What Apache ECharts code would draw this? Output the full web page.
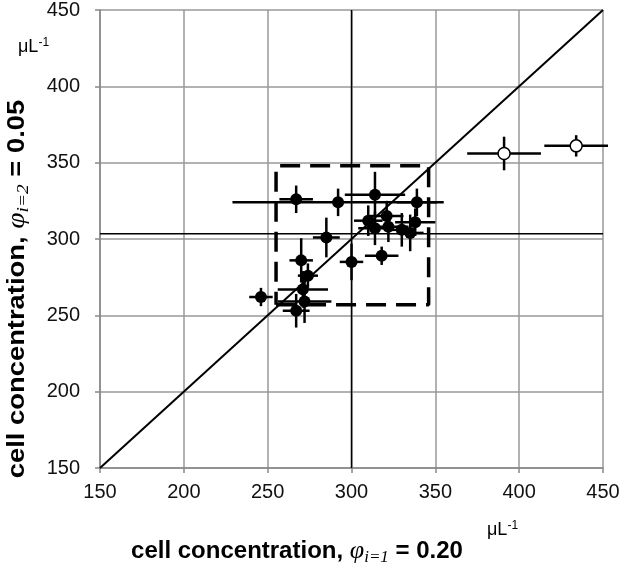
<!DOCTYPE html>
<html><head><meta charset="utf-8">
<script src="https://cdn.jsdelivr.net/npm/echarts@6/dist/echarts.min.js"></script>
<style>html,body{margin:0;padding:0;background:#fff}#c{width:634px;height:572px}</style>
</head><body><div id="c"></div>
<script>
// Data points (filled): x = phi 0.20, y = phi 0.05
const xs   = [246, 267, 271, 270, 274, 272, 267, 292, 285, 300, 314, 318, 310, 321, 322, 314, 330, 335, 339, 338];
const ys   = [262, 253, 267, 286, 276, 259, 326, 324, 301, 285, 329, 289, 312, 315, 308, 307, 306, 304, 324, 311];
const xErr = [7, 8, 15, 7, 6, 16, 10, 63, 8, 7, 18, 10, 8.5, 10, 12, 10, 8, 8, 12, 12];
const yErr = [6, 11, 12, 14.5, 8, 14, 9, 9, 13, 12, 15, 6, 10, 10, 10, 11, 11, 12, 9, 9];
// Outliers (open circles)
const oxs   = [391, 434];
const oys   = [356, 361];
const oxErr = [22, 19];
const oyErr = [11, 7];
// Reference lines
const meanX = [300];
const meanY = [303.5];
const boxX = [255, 346];
const boxY = [257, 348];
const axisMin = [150];
const axisMax = [450];
const tickStep = [50];
const xName = 'cell concentration, ';
const xPhi = 'i=1';
const xVal = ' = 0.20';
const yName = 'cell concentration, ';
const yPhi = 'i=2';
const yVal = ' = 0.05';
const unitText = 'μL';

const chart = echarts.init(document.getElementById('c'));
const pts = xs.map((x, i) => [x, ys[i], xErr[i], yErr[i]]);
const opts = oxs.map((x, i) => [x, oys[i], oxErr[i], oyErr[i]]);

function errRender(params, api) {
  const x = api.value(0), y = api.value(1), xe = api.value(2), ye = api.value(3);
  const a = api.coord([x - xe, y]), b = api.coord([x + xe, y]);
  const c = api.coord([x, y - ye]), d = api.coord([x, y + ye]);
  const st = {stroke: '#000', lineWidth: 2.5};
  return {type: 'group', children: [
    {type: 'line', shape: {x1: a[0], y1: a[1], x2: b[0], y2: b[1]}, style: st},
    {type: 'line', shape: {x1: c[0], y1: c[1], x2: d[0], y2: d[1]}, style: st}
  ]};
}

const nameRich = {
  b: {fontFamily: 'Liberation Sans', fontWeight: 'bold', fontSize: 24, color: '#000'},
  phi: {fontFamily: 'Liberation Serif', fontStyle: 'italic', fontSize: 26, color: '#000'},
  sub: {fontFamily: 'Liberation Serif', fontStyle: 'italic', fontSize: 17, color: '#000', padding: [13, 0, 0, 0]}
};
const unitRich = {
  u: {fontFamily: 'Liberation Sans', fontSize: 18, color: '#000'},
  s: {fontFamily: 'Liberation Sans', fontSize: 12, color: '#000', padding: [0, 0, 8, 0]}
};
const axisCommon = {
  type: 'value', min: axisMin[0], max: axisMax[0], interval: tickStep[0],
  axisLine: {show: true, lineStyle: {color: '#888', width: 1.5}},
  axisTick: {show: true, length: 5, lineStyle: {color: '#888', width: 1.5}},
  splitLine: {show: true, lineStyle: {color: '#999', width: 1.5}},
  axisLabel: {fontFamily: 'Liberation Sans', fontSize: 20, color: '#111'}
};

chart.setOption({
  animation: false,
  grid: {left: 100, right: 31, top: 10, bottom: 104},
  xAxis: Object.assign({}, axisCommon, {
    axisLabel: Object.assign({}, axisCommon.axisLabel, {margin: 14})
  }),
  yAxis: Object.assign({}, axisCommon, {
    axisLabel: Object.assign({}, axisCommon.axisLabel, {margin: 20})
  }),
  graphic: [
    {type: 'text', x: 297, y: 551, style: {text: '{b|' + xName + '}{phi|φ}{sub|' + xPhi + '}{b|' + xVal + '}', rich: nameRich, align: 'center', verticalAlign: 'middle'}},
    {type: 'text', x: 17, y: 289, rotation: Math.PI / 2, scaleX: 1.14, style: {text: '{b|' + yName + '}{phi|φ}{sub|' + yPhi + '}{b|' + yVal + '}', rich: nameRich, align: 'center', verticalAlign: 'middle'}},
    {type: 'text', left: 18, top: 37, style: {text: '{u|' + unitText + '}{s|-1}', rich: unitRich}},
    {type: 'text', left: 487, top: 520, style: {text: '{u|' + unitText + '}{s|-1}', rich: unitRich}}
  ],
  series: [
    {type: 'line', data: [[meanX[0], axisMin[0]], [meanX[0], axisMax[0]]], symbol: 'none', lineStyle: {color: '#000', width: 1.5}, z: 2},
    {type: 'line', data: [[axisMin[0], meanY[0]], [axisMax[0], meanY[0]]], symbol: 'none', lineStyle: {color: '#000', width: 1.5}, z: 2},
    {type: 'line', data: [[axisMin[0], axisMin[0]], [axisMax[0], axisMax[0]]], symbol: 'none', lineStyle: {color: '#000', width: 2}, z: 2},
    {type: 'line', data: [[boxX[0], boxY[0]], [boxX[1], boxY[0]], [boxX[1], boxY[1]], [boxX[0], boxY[1]], [boxX[0], boxY[0]]],
      symbol: 'none', lineStyle: {color: '#000', width: 3.5, type: [20, 10]}, z: 3},
    {type: 'custom', renderItem: errRender, data: pts, z: 4},
    {type: 'custom', renderItem: errRender, data: opts, z: 4},
    {type: 'scatter', data: pts, symbol: 'circle', symbolSize: 12, itemStyle: {color: '#000', opacity: 1}, z: 5},
    {type: 'scatter', data: opts, symbol: 'circle', symbolSize: 12, itemStyle: {color: '#fff', borderColor: '#000', borderWidth: 1.5, opacity: 1}, z: 5}
  ]
});
</script></body></html>
